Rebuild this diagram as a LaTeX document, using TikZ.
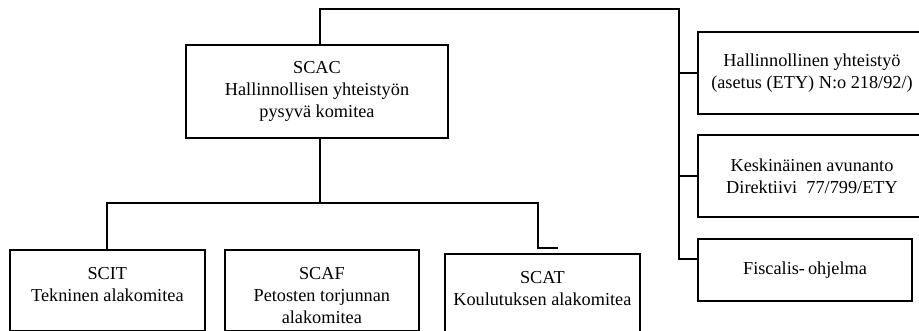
\documentclass[tikz,border=0pt]{standalone}
\usepackage{fontspec}
\setmainfont{Liberation Serif}
\usepackage{tikz}
\usetikzlibrary{positioning}

% teksti laatikon yläosaan
\newcommand{\ylateksti}[3]{\parbox[c][#2][t]{#1}{\centering\vspace*{0.29cm}\strut #3}}

\begin{document}
\begin{tikzpicture}[x=0.02cm, y=-0.02cm,
  laatikko/.style={draw, line width=1pt, align=center, font=\fontsize{10.4}{12.5}\selectfont},
  yhteys/.style={line width=1pt}]

\useasboundingbox (0,0) rectangle (919,331);
\clip (0,0) rectangle (919,331);

% Pysyvä komitea
\node[laatikko, minimum width=5.24cm, minimum height=1.86cm] (scac) at (317,91.5) {SCAC\\Hallinnollisen yhteistyön\\pysyvä komitea};

% Oikeanpuoleiset laatikot
\node[laatikko, minimum width=4.56cm, minimum height=1.64cm] (hall) at (812,73) {Hallinnollinen yhteistyö\\(asetus (ETY) N:o 218/92/)};
\node[laatikko, minimum width=4.56cm, minimum height=1.64cm] (kesk) at (812,176) {Keskinäinen avunanto\\Direktiivi\ \ 77/799/ETY};
\node[laatikko, minimum width=4.28cm, minimum height=1.24cm] (fisc) at (805,270) {Fiscalis-\,ohjelma};

% Alakomiteat
\node[laatikko, inner sep=0pt, anchor=north west] (scit) at (9,249) {\ylateksti{3.9cm}{1.63cm}{SCIT\\Tekninen alakomitea}};
\node[laatikko, inner sep=0pt, anchor=north west] (scaf) at (224,249) {\ylateksti{3.88cm}{1.63cm}{SCAF\\Petosten torjunnan\\alakomitea}};
\node[laatikko, inner sep=0pt, anchor=north west] (scat) at (444,253) {\ylateksti{3.9cm}{1.84cm}{SCAT\\Koulutuksen alakomitea}};

% Yhteydet oikealle
\coordinate (runko) at (679,9);
\draw[yhteys] ([xshift=0.06cm]scac.north) |- (runko) |- ([yshift=0.22cm]fisc.west);
\draw[yhteys] (runko |- hall.west) -- (hall.west);
\draw[yhteys] (runko |- kesk.west) -- (kesk.west);

% Yhteydet alas
\coordinate (haara) at (320,203);
\coordinate (kulma) at (538,203);
\coordinate (koukku) at (558,248);
\draw[yhteys] ([xshift=0.06cm]scac.south) -- (haara);
\draw[yhteys] (scit.north) |- (kulma) |- (koukku);

\end{tikzpicture}
\end{document}
